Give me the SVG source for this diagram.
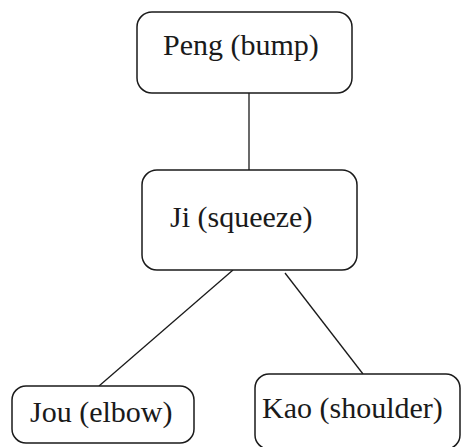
<svg xmlns="http://www.w3.org/2000/svg" width="462" height="447" viewBox="0 0 462 447">
<style>
.box{fill:#fff;stroke:#1a1a1a;stroke-width:1.5}
.lbl{font-family:"Liberation Serif","Times New Roman",serif;font-size:30px;fill:#1a1a1a}
.con{stroke:#1a1a1a;stroke-width:1.3;fill:none}
</style>
<rect width="462" height="447" fill="#fff"/>
<g id="connectors">
<line class="con" x1="249" y1="93" x2="249" y2="170"/>
<line class="con" x1="233" y1="270" x2="99" y2="386"/>
<line class="con" x1="285" y1="273" x2="363" y2="374"/>
</g>
<g id="peng">
<rect class="box" x="137" y="12" width="215" height="81" rx="15"/>
<text class="lbl" x="163" y="55">Peng (bump)</text>
</g>
<g id="ji">
<rect class="box" x="142" y="170" width="215" height="100" rx="15"/>
<text class="lbl" x="170" y="227">Ji (squeeze)</text>
</g>
<g id="jou">
<rect class="box" x="12" y="386" width="182" height="57" rx="14"/>
<text class="lbl" x="30" y="422">Jou (elbow)</text>
</g>
<g id="kao">
<rect class="box" x="255" y="374" width="205" height="75" rx="14"/>
<text class="lbl" x="262" y="418">Kao (shoulder)</text>
</g>
</svg>
